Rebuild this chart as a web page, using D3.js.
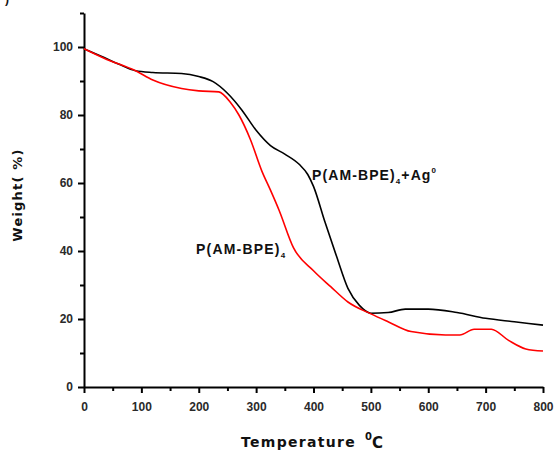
<!DOCTYPE html>
<html>
<head>
<meta charset="utf-8">
<style>
  body { margin: 0; background: #fff; }
  .tick text { font-family: "Liberation Sans", Arial, sans-serif; font-weight: bold; font-size: 12px; fill: #2a2a2a; }
  .lbl { font-family: "Liberation Sans", Arial, sans-serif; font-weight: bold; fill: #111; }
</style>
</head>
<body>
<svg width="555" height="454"></svg>
<script src="https://cdn.jsdelivr.net/npm/d3@7"></script>
<script>
// temperature (deg C) and weight (%)
var tempAg = [0, 30, 60, 90, 120, 170, 200, 225, 250, 275, 300, 325, 350, 375, 390, 400, 420, 440, 460, 480, 500, 530, 560, 600, 650, 700, 750, 800];
var weightAg = [99.5, 97.3, 95, 93, 92.5, 92.2, 91.3, 89.8, 86.4, 81.5, 75.5, 71, 68.5, 65.5, 62.5, 59, 48.5, 38.5, 29, 24, 21.7, 21.9, 22.9, 22.9, 21.9, 20.2, 19.2, 18.2];

var tempP = [0, 35, 90, 120, 170, 200, 235, 256, 270, 290, 310, 325, 340, 365, 400, 430, 460, 500, 530, 570, 630, 655, 680, 710, 740, 770, 800];
var weightP = [99.5, 96.7, 93, 90.3, 87.8, 87.1, 86.8, 83.5, 80, 72.8, 63.5, 57.9, 52, 41, 34.2, 29.5, 25, 21.5, 19.2, 16.3, 15.3, 15.3, 17, 17, 13.7, 11.2, 10.6];

var xTicks = [0, 100, 200, 300, 400, 500, 600, 700, 800];
var xMinor = [50, 150, 250, 350, 450, 550, 650, 750];
var yTicks = [0, 20, 40, 60, 80, 100];
var yMinor = [10, 30, 50, 70, 90, 110];

var svg = d3.select("svg");

var x = d3.scaleLinear().domain([0, 800]).range([84, 543]);
var y = d3.scaleLinear().domain([0, 110]).range([387, 13]);

// minor ticks first, then the main axes on top
svg.append("g")
  .attr("transform", "translate(0,387)")
  .call(d3.axisBottom(x).tickValues(xMinor).tickSize(4).tickFormat(""))
  .call(function (g) { g.select(".domain").remove(); })
  .selectAll("line").attr("stroke-width", 2);

svg.append("g")
  .attr("transform", "translate(84,0)")
  .call(d3.axisLeft(y).tickValues(yMinor).tickSize(4).tickFormat(""))
  .call(function (g) { g.select(".domain").remove(); })
  .selectAll("line").attr("stroke-width", 2);

var xa = svg.append("g")
  .attr("transform", "translate(0,387)")
  .call(d3.axisBottom(x).tickValues(xTicks).tickSize(6).tickSizeOuter(0).tickPadding(9));
xa.select(".domain").attr("stroke-width", 2);
xa.selectAll("line").attr("stroke-width", 2);

var ya = svg.append("g")
  .attr("transform", "translate(84,0)")
  .call(d3.axisLeft(y).tickValues(yTicks).tickSize(6).tickSizeOuter(0).tickPadding(5));
ya.select(".domain").attr("stroke-width", 2);
ya.selectAll("line").attr("stroke-width", 2);

var line = d3.line()
  .x(function (d) { return x(d[0]); })
  .y(function (d) { return y(d[1]); })
  .curve(d3.curveMonotoneX);

svg.append("path")
  .datum(d3.zip(tempAg, weightAg))
  .attr("fill", "none")
  .attr("stroke", "#000")
  .attr("stroke-width", 1.6)
  .attr("d", line);

svg.append("path")
  .datum(d3.zip(tempP, weightP))
  .attr("fill", "none")
  .attr("stroke", "#ff0000")
  .attr("stroke-width", 1.6)
  .attr("d", line);

// curve labels
var t1 = svg.append("text").attr("class", "lbl").attr("x", 312).attr("y", 180)
  .style("font-size", "14px").style("letter-spacing", "1.1px");
t1.append("tspan").text("P(AM-BPE)");
t1.append("tspan").attr("dy", 4).style("font-size", "8px").text("4");
t1.append("tspan").attr("dy", -4).text("+Ag");
t1.append("tspan").attr("dy", -7).style("font-size", "8px").text("0");

var t2 = svg.append("text").attr("class", "lbl").attr("x", 196).attr("y", 254)
  .style("font-size", "14px").style("letter-spacing", "1.2px");
t2.append("tspan").text("P(AM-BPE)");
t2.append("tspan").attr("dy", 4).style("font-size", "8px").text("4");

// axis titles
svg.append("text").attr("class", "lbl")
  .attr("transform", "translate(22,195) rotate(-90)")
  .attr("text-anchor", "middle")
  .style("font-family", "'DejaVu Sans', sans-serif")
  .style("font-size", "13px").style("letter-spacing", "1.2px")
  .text("Weight( %)");

svg.append("text").attr("class", "lbl")
  .attr("x", 241).attr("y", 447)
  .style("font-family", "'DejaVu Sans', sans-serif")
  .style("font-size", "14px").style("letter-spacing", "1.3px")
  .text("Temperature");
svg.append("text").attr("class", "lbl")
  .attr("x", 365).attr("y", 440)
  .style("font-family", "'DejaVu Sans', sans-serif")
  .style("font-size", "10px")
  .text("0");
svg.append("text").attr("class", "lbl")
  .attr("x", 372).attr("y", 448)
  .style("font-family", "'DejaVu Sans', sans-serif")
  .style("font-size", "15px")
  .text("C");

// clipped panel mark at top-left corner
svg.append("text").attr("class", "lbl").attr("x", 5).attr("y", 3)
  .style("font-size", "12px").text(")");
</script>
</body>
</html>
